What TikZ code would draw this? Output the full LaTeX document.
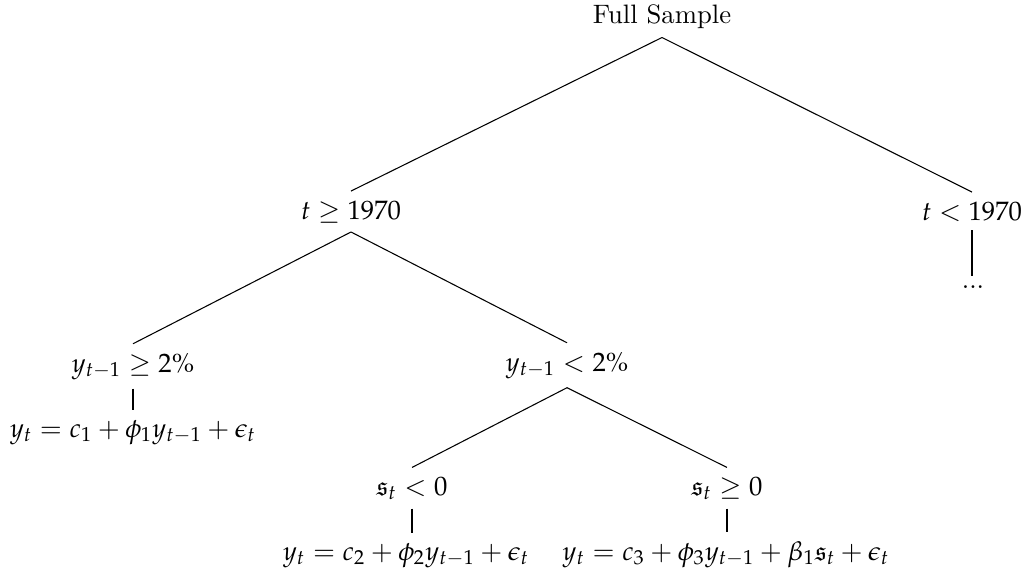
\documentclass[tikz,border=0pt]{standalone}
\usepackage{amssymb}
\usepackage{mathpazo}
\begin{document}
\begin{tikzpicture}[x=0.375pt,y=-0.375pt,
  lbl/.style={anchor=base, inner sep=3.3pt},
  edge/.style={line width=0.4pt}]
\useasboundingbox (0,0) rectangle (1028,575);
\node[lbl] (root) at (662,23) {Full Sample};
\node[lbl] (a) at (351,219) {$t \geq 1970$};
\node[lbl] (b) at (972,220) {$t < 1970$};
\node[lbl] (bd) at (973,288) {...};
\node[lbl] (aa) at (133,372) {$y_{t-1} \geq 2\%$};
\node[lbl] (ab) at (567,371) {$y_{t-1} < 2\%$};
\node[lbl] (aae) at (133,437) {$y_t = c_1 + \phi_1 y_{t-1} + \epsilon_t$};
\node[lbl] (aba) at (412,495) {$\mathfrak{s}_t < 0$};
\node[lbl] (abb) at (727,495) {$\mathfrak{s}_t \geq 0$};
\node[lbl] (abae) at (406,560) {$y_t = c_2 + \phi_2 y_{t-1} + \epsilon_t$};
\node[lbl] (abbe) at (726,560) {$y_t = c_3 + \phi_3 y_{t-1} + \beta_1 \mathfrak{s}_t + \epsilon_t$};
\draw[edge] (root.south) -- (a.north);
\draw[edge] (root.south) -- (b.north);
\draw[edge] (b.south) -- (b.south |- bd.north);
\draw[edge] (a.south) -- (aa.north);
\draw[edge] (a.south) -- (ab.north);
\draw[edge] (aa.south) -- (aa.south |- aae.north);
\draw[edge] (ab.south) -- (aba.north);
\draw[edge] (ab.south) -- (abb.north);
\draw[edge] (aba.south) -- (aba.south |- abae.north);
\draw[edge] (abb.south) -- (abb.south |- abbe.north);
\end{tikzpicture}
\end{document}
